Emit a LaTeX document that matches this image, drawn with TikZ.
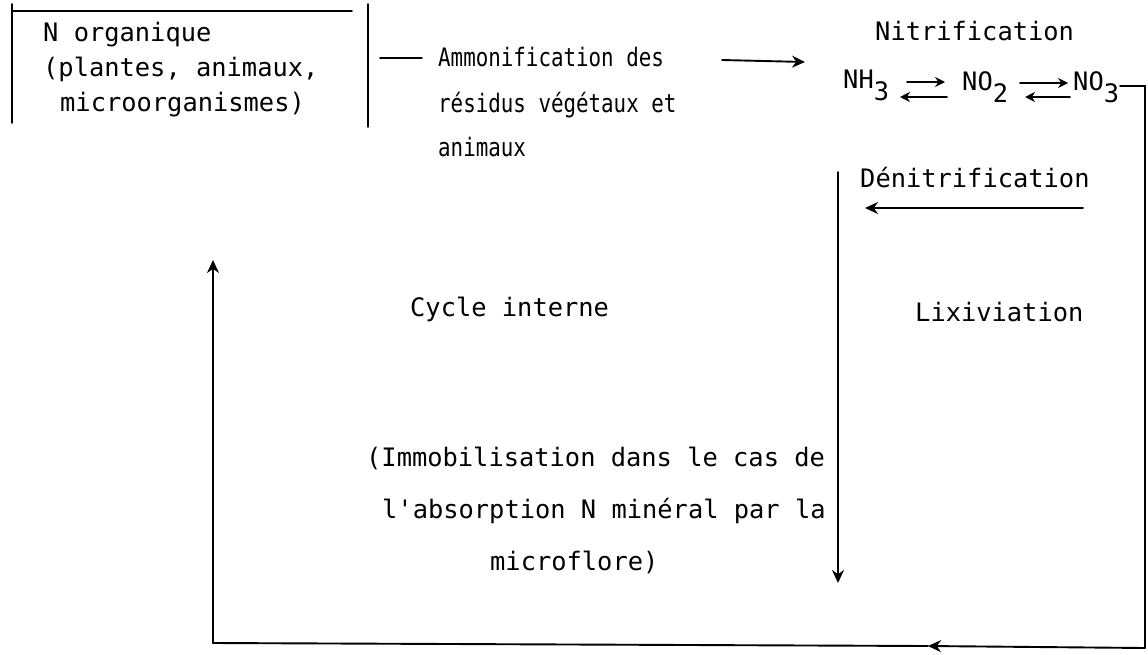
\documentclass[tikz,border=0pt]{standalone}
\usepackage{fontspec}
\setmonofont{DejaVu Sans Mono}
\newfontfamily\tw{DejaVu Sans Mono}
\newfontfamily\twc[FakeStretch=0.82]{DejaVu Sans Mono}
\usetikzlibrary{arrows.meta}
\begin{document}
\begin{tikzpicture}[x=1pt,y=-1pt,
  ln/.style={line width=1.9pt,line cap=round},
  arr/.style={ln,-{Stealth[length=13pt,width=12pt]}},
  sarr/.style={ln,-{Stealth[length=10pt,width=10pt]}},
  txt/.style={anchor=base west,inner sep=0pt,font=\tw\fontsize{25.4}{26}\selectfont},
  txtc/.style={anchor=base west,inner sep=0pt,font=\twc\fontsize{25.4}{26}\selectfont}]
\useasboundingbox[fill=white] (0,0) rectangle (1148,654);
% box
\coordinate (bl1) at (12,4);   \coordinate (bl2) at (12,123);
\coordinate (bt1) at (12,11);  \coordinate (bt2) at (352,11);
\coordinate (br1) at (368,4);  \coordinate (br2) at (368,127);
\draw[ln] (bl1) -- (bl2);
\draw[ln] (bt1) -- (bt2);
\draw[ln] (br1) -- (br2);
\node[txt] (org1) at (43,41) {N organique};
\node[txt] (org2) at (43,76) {(plantes, animaux,};
\node[txt] (org3) at (60,111) {microorganismes)};
% ammonification
\node[txtc] (am1) at (438,66) {Ammonification des};
\node[txtc] (am2) at (438,112) {résidus végétaux et};
\node[txtc] (am3) at (438,156) {animaux};
\coordinate (d1) at (380,58); \coordinate (d2) at (422,58);
\draw[ln] (d1) -- (d2);
\coordinate (a1) at (722,60); \coordinate (a2) at (805,62);
\draw[arr] (a1) -- (a2);
% nitrification
\node[txt] (nit) at (875,40) {Nitrification};
\node[txt] (nh3) at (843,88) {NH\raisebox{-12pt}{3}};
\node[txt] (no2) at (962,90) {NO\raisebox{-12pt}{2}};
\node[txt] (no3) at (1073,90) {NO\raisebox{-12pt}{3}};
\coordinate (f1a) at (907,82);  \coordinate (f1b) at (945,82);
\coordinate (r1a) at (947,97);  \coordinate (r1b) at (900,97);
\coordinate (f2a) at (1020,83); \coordinate (f2b) at (1068,83);
\coordinate (r2a) at (1070,97); \coordinate (r2b) at (1025,97);
\draw[sarr] (f1a) -- (f1b);
\draw[sarr] (r1a) -- (r1b);
\draw[sarr] (f2a) -- (f2b);
\draw[sarr] (r2a) -- (r2b);
% right loop
\coordinate (n3e) at (1120,86);
\coordinate (rc1) at (1145,86);
\coordinate (rc2) at (1145,648);
\coordinate (lc) at (213,643);
\coordinate (lt) at (213,260);
\coordinate (mk) at (928,646);
\draw[ln] (n3e) -- (rc1) -- (rc2);
\draw[arr] (rc2) -- (mk);
\draw[ln] (mk) -- (lc);
\draw[arr] (lc) -- (lt);
% denitrification
\node[txt] (den) at (860,187) {Dénitrification};
\coordinate (dn1) at (1083,208); \coordinate (dn2) at (865,208);
\draw[arr] (dn1) -- (dn2);
% lixiviation
\coordinate (lx1) at (838,172); \coordinate (lx2) at (838,583);
\draw[arr] (lx1) -- (lx2);
\node[txt] (lix) at (915,321) {Lixiviation};
% cycle
\node[txt] (cyc) at (410,316) {Cycle interne};
\node[txt] (im1) at (366,466) {(Immobilisation dans le cas de};
\node[txt] (im2) at (382,518) {l'absorption N minéral par la};
\node[txt] (im3) at (490,570) {microflore)};
\end{tikzpicture}
\end{document}
